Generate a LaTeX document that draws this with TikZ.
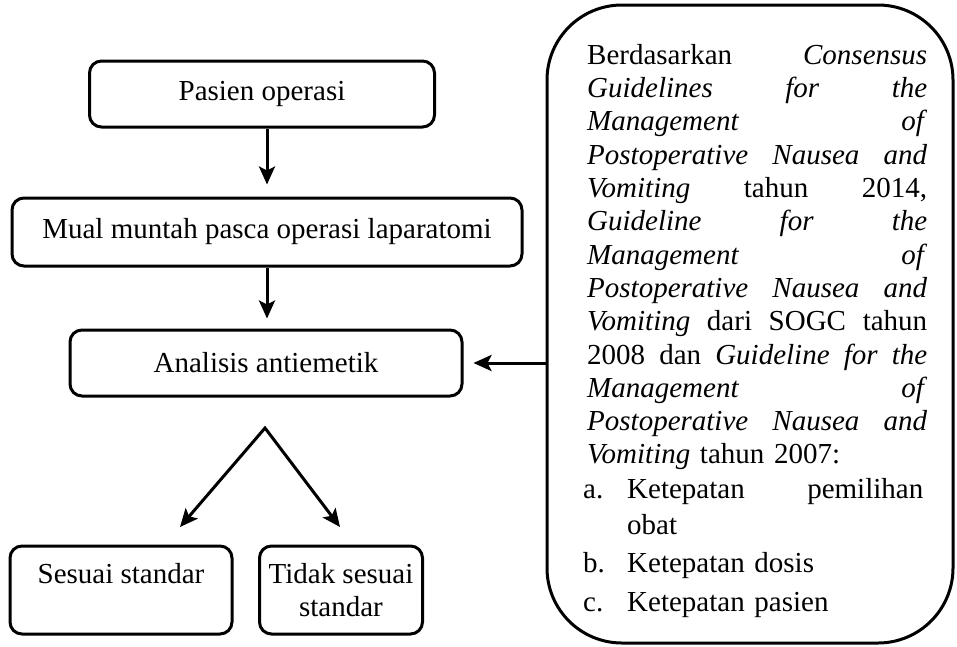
\documentclass[tikz,border=0pt]{standalone}
\usepackage{fontspec}
\setmainfont{Liberation Serif}
\usetikzlibrary{arrows.meta,calc}
\newcommand\dfont{\fontsize{29}{33.3}\selectfont}
\begin{document}
\begin{tikzpicture}[x=1pt,y=-1pt,
  box/.style={draw,line width=3pt,rounded corners=12pt,inner sep=0pt,font=\dfont,align=center},
  tip/.tip={Stealth[length=18pt,width=16pt,inset=4pt]},
  arr/.style={line width=3pt,-tip},
  frame/.style={draw,line width=3pt,rounded corners=75pt,inner sep=0pt}]
\useasboundingbox (0,0) rectangle (957,646);
\node[box,minimum width=345pt,minimum height=66pt] (b1) at (262,94) {Pasien operasi};
\node[box,minimum width=510pt,minimum height=68pt] (b2) at (267,232) {Mual muntah pasca operasi laparatomi};
\node[box,minimum width=392pt,minimum height=66pt] (b3) at (266,363) {Analisis antiemetik};
\node[box,minimum width=222pt,minimum height=88pt] (b4) at (121,590) {Sesuai standar\\\mbox{}};
\node[box,minimum width=163pt,minimum height=88pt] (b5) at (341,590) {Tidak sesuai\\standar};
\node[frame,minimum width=406pt,minimum height=638pt] (rb) at (750,324) {};
\node[anchor=north west,inner sep=0pt,text width=340pt,font=\dfont] (rt) at (587,44) {%
\hbox to\linewidth{Berdasarkan\hfill\textit{Consensus}}
\hbox to\linewidth{\textit{Guidelines}\hfill\textit{for}\hfill\textit{the}}
\hbox to\linewidth{\textit{Management}\hfill\textit{of}}
\hbox to\linewidth{\textit{Postoperative}\hfill\textit{Nausea}\hfill\textit{and}}
\hbox to\linewidth{\textit{Vomiting}\hfill tahun\hfill 2014,}
\hbox to\linewidth{\textit{Guideline}\hfill\textit{for}\hfill\textit{the}}
\hbox to\linewidth{\textit{Management}\hfill\textit{of}}
\hbox to\linewidth{\textit{Postoperative}\hfill\textit{Nausea}\hfill\textit{and}}
\hbox to\linewidth{\textit{Vomiting}\hfill dari\hfill SOGC\hfill tahun}
\hbox to\linewidth{2008\hfill dan\hfill\textit{Guideline}\hfill\textit{for}\hfill\textit{the}}
\hbox to\linewidth{\textit{Management}\hfill\textit{of}}
\hbox to\linewidth{\textit{Postoperative}\hfill\textit{Nausea}\hfill\textit{and}}
\hbox{\textit{Vomiting} tahun 2007:}
\vskip1pt
\hbox to\linewidth{\kern-4pt\hbox to 44pt{a.\hfil}Ketepatan\hfill pemilihan\kern4pt}
\vskip3pt
\hbox{\kern40pt obat}
\vskip5pt
\hbox{\kern-4pt\hbox to 44pt{b.\hfil}Ketepatan dosis}
\vskip5pt
\hbox{\kern-4pt\hbox to 44pt{c.\hfil}Ketepatan pasien}
};
\draw[arr] (b1.south -| b2.north) -- ($(b2.north)+(0,-12)$);
\draw[arr] (b2.south) -- ($(b3.north -| b2.south)+(0,-10)$);
\coordinate (apex) at (265,428);
\coordinate (tl) at (180,527);
\coordinate (tr) at (340,527);
\draw[line width=3pt,line join=miter,tip-tip] (tl) -- (apex) -- (tr);
\draw[arr] (rb.west |- b3.east) -- ($(b3.east)+(10,0)$);
\end{tikzpicture}
\end{document}
